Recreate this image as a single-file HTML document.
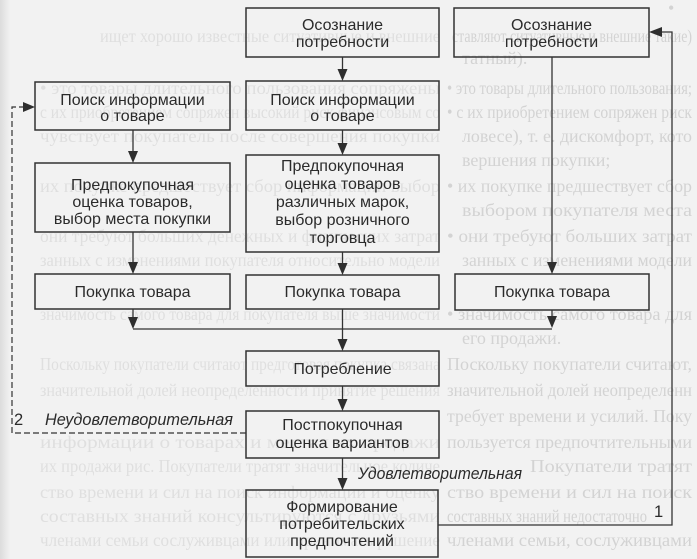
<!DOCTYPE html>
<html>
<head>
<meta charset="utf-8">
<style>
  html,body{margin:0;padding:0;}
  body{width:697px;height:559px;overflow:hidden;background:#f1f1f1;}
  svg{display:block;}
  .bt{font-family:"Liberation Serif","DejaVu Serif",serif;font-size:18px;}
  .bx{font-family:"Liberation Sans","DejaVu Sans",sans-serif;font-size:16px;fill:#2b2b2b;}
  .it{font-family:"Liberation Sans","DejaVu Sans",sans-serif;font-size:16.5px;font-style:italic;fill:#2b2b2b;}
</style>
</head>
<body>
<svg width="697" height="559" viewBox="0 0 697 559" xmlns="http://www.w3.org/2000/svg">
  <defs>
    <linearGradient id="edge" x1="0" x2="1" y1="0" y2="0">
      <stop offset="0" stop-color="#dcdcdc"/>
      <stop offset="1" stop-color="#f1f1f1"/>
    </linearGradient>
  </defs>
  <rect x="0" y="0" width="697" height="559" fill="#f2f2f2"/>
  <rect x="0" y="0" width="10" height="559" fill="url(#edge)"/>

  <!-- bleed-through text (right side) -->
  <g class="bt" fill="#d3d3d3">
    <text x="668" y="14">•</text>
    <text x="452" y="42" textLength="240" lengthAdjust="spacingAndGlyphs">ставляют ситуативные и внешние такие)</text>
    <text x="462" y="64">татный).</text>
    <text x="447" y="94" textLength="245" lengthAdjust="spacingAndGlyphs">• это товары длительного пользования;</text>
    <text x="447" y="118" textLength="245" lengthAdjust="spacingAndGlyphs">• с их приобретением сопряжен риск</text>
    <text x="462" y="142" textLength="230" lengthAdjust="spacingAndGlyphs">ловесе), т. е. дискомфорт, кото</text>
    <text x="462" y="166">вершения покупки;</text>
    <text x="447" y="192" textLength="245" lengthAdjust="spacingAndGlyphs">• их покупке предшествует сбор</text>
    <text x="462" y="216" textLength="230" lengthAdjust="spacingAndGlyphs">выбором покупателя места</text>
    <text x="447" y="242" textLength="245" lengthAdjust="spacingAndGlyphs">• они требуют больших затрат</text>
    <text x="462" y="266" textLength="230" lengthAdjust="spacingAndGlyphs">занных с изменениями модели</text>
    <text x="447" y="320" textLength="245" lengthAdjust="spacingAndGlyphs">• значимость самого товара для</text>
    <text x="462" y="344">его продажи.</text>
    <text x="447" y="370" textLength="245" lengthAdjust="spacingAndGlyphs">Поскольку покупатели считают,</text>
    <text x="447" y="396" textLength="245" lengthAdjust="spacingAndGlyphs">значительной долей неопределенн</text>
    <text x="447" y="422" textLength="245" lengthAdjust="spacingAndGlyphs">требует времени и усилий. Поку</text>
    <text x="447" y="448" textLength="245" lengthAdjust="spacingAndGlyphs">пользуется предпочтительными</text>
    <text x="530" y="472" textLength="162" lengthAdjust="spacingAndGlyphs">Покупатели тратят</text>
    <text x="447" y="498" textLength="245" lengthAdjust="spacingAndGlyphs">ство времени и сил на поиск</text>
    <text x="447" y="522" textLength="200" lengthAdjust="spacingAndGlyphs">составных знаний недостаточно</text>
    <text x="447" y="546" textLength="245" lengthAdjust="spacingAndGlyphs">членами семьи, сослуживцами</text>
  </g>
  <!-- bleed-through text (left/center, fainter) -->
  <g class="bt" fill="#dfdfdf">
    <text x="100" y="42" textLength="340" lengthAdjust="spacingAndGlyphs">ищет хорошо известные ситуативные и внешние</text>
    <text x="40" y="94" textLength="400" lengthAdjust="spacingAndGlyphs">• это товары длительного пользования сопряжены</text>
    <text x="40" y="118" textLength="400" lengthAdjust="spacingAndGlyphs">с их приобретением сопряжен высокий риск финансовым со</text>
    <text x="40" y="142" textLength="400" lengthAdjust="spacingAndGlyphs">чувствует покупатель после совершения покупки</text>
    <text x="40" y="192" textLength="400" lengthAdjust="spacingAndGlyphs">их покупке предшествует сбор информации выбор</text>
    <text x="40" y="242" textLength="400" lengthAdjust="spacingAndGlyphs">они требуют больших денежных и физических затрат</text>
    <text x="40" y="266" textLength="400" lengthAdjust="spacingAndGlyphs">занных с изменениями покупателя относительно модели</text>
    <text x="40" y="320" textLength="400" lengthAdjust="spacingAndGlyphs">значимость самого товара для покупателя выше значимости</text>
    <text x="40" y="370" textLength="400" lengthAdjust="spacingAndGlyphs">Поскольку покупатели считают предготовая покупка связана</text>
    <text x="40" y="396" textLength="400" lengthAdjust="spacingAndGlyphs">значительной долей неопределенности принятие решения</text>
    <text x="40" y="448" textLength="400" lengthAdjust="spacingAndGlyphs">информации о товарах и местах их продажи</text>
    <text x="40" y="472" textLength="400" lengthAdjust="spacingAndGlyphs">их продажи рис. Покупатели тратят значительное количе</text>
    <text x="40" y="498" textLength="400" lengthAdjust="spacingAndGlyphs">ство времени и сил на поиск информации и оценку</text>
    <text x="40" y="522" textLength="400" lengthAdjust="spacingAndGlyphs">составных знаний консультируются с друзьями</text>
    <text x="40" y="546" textLength="400" lengthAdjust="spacingAndGlyphs">членами семьи сослуживцами или принимать решение</text>
  </g>

  <!-- boxes -->
  <g fill="none" stroke="#333" stroke-width="1.5">
    <rect x="35" y="82" width="195" height="48"/>
    <rect x="35" y="163" width="195" height="69"/>
    <rect x="35" y="274" width="195" height="35"/>
    <rect x="246" y="8" width="193" height="49"/>
    <rect x="246" y="81" width="193" height="49"/>
    <rect x="246" y="155" width="193" height="97"/>
    <rect x="246" y="275" width="193" height="34"/>
    <rect x="246" y="351" width="193" height="35"/>
    <rect x="246" y="411" width="193" height="47"/>
    <rect x="246" y="490" width="192" height="67"/>
    <rect x="454" y="8" width="195" height="49"/>
    <rect x="455" y="274" width="194" height="36"/>
  </g>

  <!-- connectors -->
  <g fill="none" stroke="#333" stroke-width="1.3">
    <line x1="133" y1="130" x2="133" y2="158"/>
    <line x1="133" y1="232" x2="133" y2="268"/>
    <line x1="133" y1="309" x2="133" y2="324"/>
    <line x1="342.5" y1="57" x2="342.5" y2="76"/>
    <line x1="342.5" y1="130" x2="342.5" y2="150"/>
    <line x1="342.5" y1="252" x2="342.5" y2="270"/>
    <line x1="342.5" y1="309" x2="342.5" y2="346"/>
    <line x1="342.5" y1="386" x2="342.5" y2="406"/>
    <line x1="342.5" y1="458" x2="342.5" y2="485"/>
    <line x1="552" y1="57" x2="552" y2="268"/>
    <line x1="552" y1="310" x2="552" y2="322"/>
    <line x1="133" y1="329" x2="552" y2="329"/>
    <polyline points="438,525 672,525 672,32 660,32"/>
  </g>
  <g fill="none" stroke="#333" stroke-width="1.2" stroke-dasharray="6,3">
    <polyline points="246,433 12,433 12,107 24,107"/>
  </g>

  <!-- arrowheads -->
  <g fill="#2e2e2e">
    <polygon points="128,151 138,151 133,163"/>
    <polygon points="128,262 138,262 133,274"/>
    <polygon points="128,317 138,317 133,329"/>
    <polygon points="337.5,69 347.5,69 342.5,81"/>
    <polygon points="337.5,143 347.5,143 342.5,155"/>
    <polygon points="337.5,263 347.5,263 342.5,275"/>
    <polygon points="337.5,339 347.5,339 342.5,351"/>
    <polygon points="337.5,399 347.5,399 342.5,411"/>
    <polygon points="337.5,478 347.5,478 342.5,490"/>
    <polygon points="547,262 557,262 552,274"/>
    <polygon points="547,316 557,316 552,328"/>
    <polygon points="649,32 662,27 662,37"/>
    <polygon points="35,107 23,102 23,112"/>
  </g>

  <!-- box texts -->
  <g class="bx" text-anchor="middle">
    <text x="132.5" y="105">Поиск информации</text>
    <text x="132.5" y="121">о товаре</text>
    <text x="132.5" y="190">Предпокупочная</text>
    <text x="132.5" y="207">оценка товаров,</text>
    <text x="132.5" y="224">выбор места покупки</text>
    <text x="132.5" y="297">Покупка товара</text>

    <text x="342.5" y="30">Осознание</text>
    <text x="342.5" y="47">потребности</text>
    <text x="342.5" y="105">Поиск информации</text>
    <text x="342.5" y="121">о товаре</text>
    <text x="342.5" y="171">Предпокупочная</text>
    <text x="342.5" y="189">оценка товаров</text>
    <text x="342.5" y="207">различных марок,</text>
    <text x="342.5" y="225">выбор розничного</text>
    <text x="342.5" y="243">торговца</text>
    <text x="342.5" y="297">Покупка товара</text>
    <text x="342.5" y="374">Потребление</text>
    <text x="342.5" y="430">Постпокупочная</text>
    <text x="342.5" y="448">оценка вариантов</text>
    <text x="342" y="512">Формирование</text>
    <text x="342" y="529">потребительских</text>
    <text x="342" y="546">предпочтений</text>

    <text x="551.5" y="30">Осознание</text>
    <text x="551.5" y="47">потребности</text>
    <text x="552" y="297">Покупка товара</text>
  </g>

  <!-- labels -->
  <text class="it" x="45" y="425" textLength="188" lengthAdjust="spacingAndGlyphs">Неудовлетворительная</text>
  <text class="bx" x="14" y="425" style="font-size:16.5px">2</text>
  <text class="it" x="358" y="479" textLength="164" lengthAdjust="spacingAndGlyphs">Удовлетворительная</text>
  <text class="bx" x="654" y="517" style="font-size:16.5px">1</text>
</svg>
</body>
</html>
